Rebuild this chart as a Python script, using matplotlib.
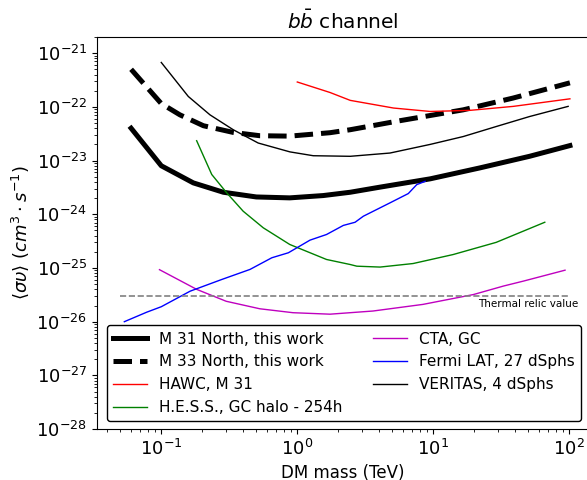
import matplotlib
matplotlib.use("Agg")
import matplotlib.pyplot as plt

# DM annihilation limits, b b-bar channel (mass in TeV, <sigma v> in cm^3 s^-1)
m31_mass = [0.06, 0.1, 0.172, 0.286, 0.5, 0.88, 1.55, 2.45, 4.06, 9.5, 22,
            51, 101]
m31_sv = [4.0e-23, 8.0e-24, 3.84e-24, 2.57e-24, 2.1e-24, 2.02e-24, 2.23e-24,
          2.57e-24, 3.2e-24, 4.57e-24, 7.3e-24, 1.2e-23, 1.9e-23]

m33_mass = [0.06, 0.1, 0.137, 0.204, 0.338, 0.53, 0.88, 1.74, 2.45, 5.4,
            16.6, 38.7, 101]
m33_sv = [5.0e-22, 1.15e-22, 7.1e-23, 4.45e-23, 3.34e-23, 2.9e-23, 2.85e-23,
          3.3e-23, 3.75e-23, 5.4e-23, 8.8e-23, 1.46e-22, 2.8e-22]

hawc_mass = [1.0, 1.74, 2.45, 5.1, 9.5, 18.6, 38.7, 101]
hawc_sv = [2.9e-22, 1.85e-22, 1.32e-22, 9.5e-23, 8.2e-23, 8.6e-23, 1.02e-22,
           1.41e-22]

hess_mass = [0.182, 0.235, 0.303, 0.40, 0.562, 0.88, 1.64, 2.45, 2.74, 4.06,
             7.1, 14, 29, 66]
hess_sv = [2.34e-23, 5.5e-24, 2.5e-24, 1.14e-24, 5.6e-25, 2.74e-25, 1.44e-25,
           1.16e-25, 1.08e-25, 1.04e-25, 1.21e-25, 1.78e-25, 3.0e-25, 7.1e-25]

cta_mass = [0.097, 0.182, 0.30, 0.53, 0.93, 1.74, 3.6, 8.4, 19.7, 32.7, 46,
            93]
cta_sv = [9.3e-26, 4.0e-26, 2.4e-26, 1.74e-26, 1.47e-26, 1.38e-26, 1.58e-26,
          2.1e-26, 3.2e-26, 4.6e-26, 5.7e-26, 9.1e-26]

fermi_mass = [0.0535, 0.078, 0.1, 0.163, 0.278, 0.449, 0.65, 0.86, 1.24,
              1.64, 2.18, 2.66, 3.06, 4.8, 6.55, 7.55, 8.7]
fermi_sv = [1.0e-26, 1.5e-26, 1.9e-26, 3.7e-26, 6.1e-26, 9.4e-26, 1.55e-25,
            1.92e-25, 3.3e-25, 4.2e-25, 6.2e-25, 7.1e-25, 9.2e-25, 1.63e-24,
            2.43e-24, 3.56e-24, 4.1e-24]

veritas_mass = [0.1, 0.158, 0.228, 0.338, 0.516, 0.883, 1.31, 2.45, 4.8, 9.5,
                16.6, 29, 51, 98]
veritas_sv = [6.7e-22, 1.56e-22, 7.1e-23, 3.75e-23, 2.12e-23, 1.45e-23,
              1.23e-23, 1.2e-23, 1.38e-23, 2.0e-23, 2.8e-23, 4.3e-23,
              6.6e-23, 1.02e-22]

thermal_relic = 3e-26
relic_range = [0.05, 100]

fig = plt.figure(figsize=(5.87, 4.8), dpi=100)
ax = fig.add_axes([0.165, 0.106, 0.8373, 0.817])

ax.plot(m31_mass, m31_sv, color="k", lw=3.6, label="M 31 North, this work")
ax.plot(m33_mass, m33_sv, color="k", lw=3.6, ls="--",
        label="M 33 North, this work")
ax.plot(hawc_mass, hawc_sv, color="red", lw=1, label="HAWC, M 31")
ax.plot(hess_mass, hess_sv, color="green", lw=1,
        label="H.E.S.S., GC halo - 254h")
ax.plot(cta_mass, cta_sv, color="m", lw=1, label="CTA, GC")
ax.plot(fermi_mass, fermi_sv, color="blue", lw=1,
        label="Fermi LAT, 27 dSphs")
ax.plot(veritas_mass, veritas_sv, color="k", lw=1, label="VERITAS, 4 dSphs")

# thermal relic cross section
ax.plot(relic_range, [thermal_relic, thermal_relic], color="gray", lw=1.2,
        ls="--")
ax.text(116, thermal_relic * 0.9, "Thermal relic value",
        fontsize=7.5, ha="right", va="top")

ax.set_xscale("log")
ax.set_yscale("log")
ax.set_xlim(0.0336, 138)
ax.set_ylim(1e-28, 2.0e-21)
ax.tick_params(labelsize=13)

ax.set_xlabel("DM mass (TeV)", fontsize=12)
ax.set_ylabel(r"$\langle \sigma \upsilon \rangle$ $(cm^3 \cdot s^{-1})$",
              fontsize=13)
ax.set_title(r"$b\bar{b}$ channel", fontsize=14.5)

ax.legend(loc="lower right", ncol=2, fontsize=11, borderaxespad=0.5,
          handlelength=2.2, labelspacing=0.52, edgecolor="k",
          framealpha=1.0)

fig.savefig("out.png", dpi=100)
